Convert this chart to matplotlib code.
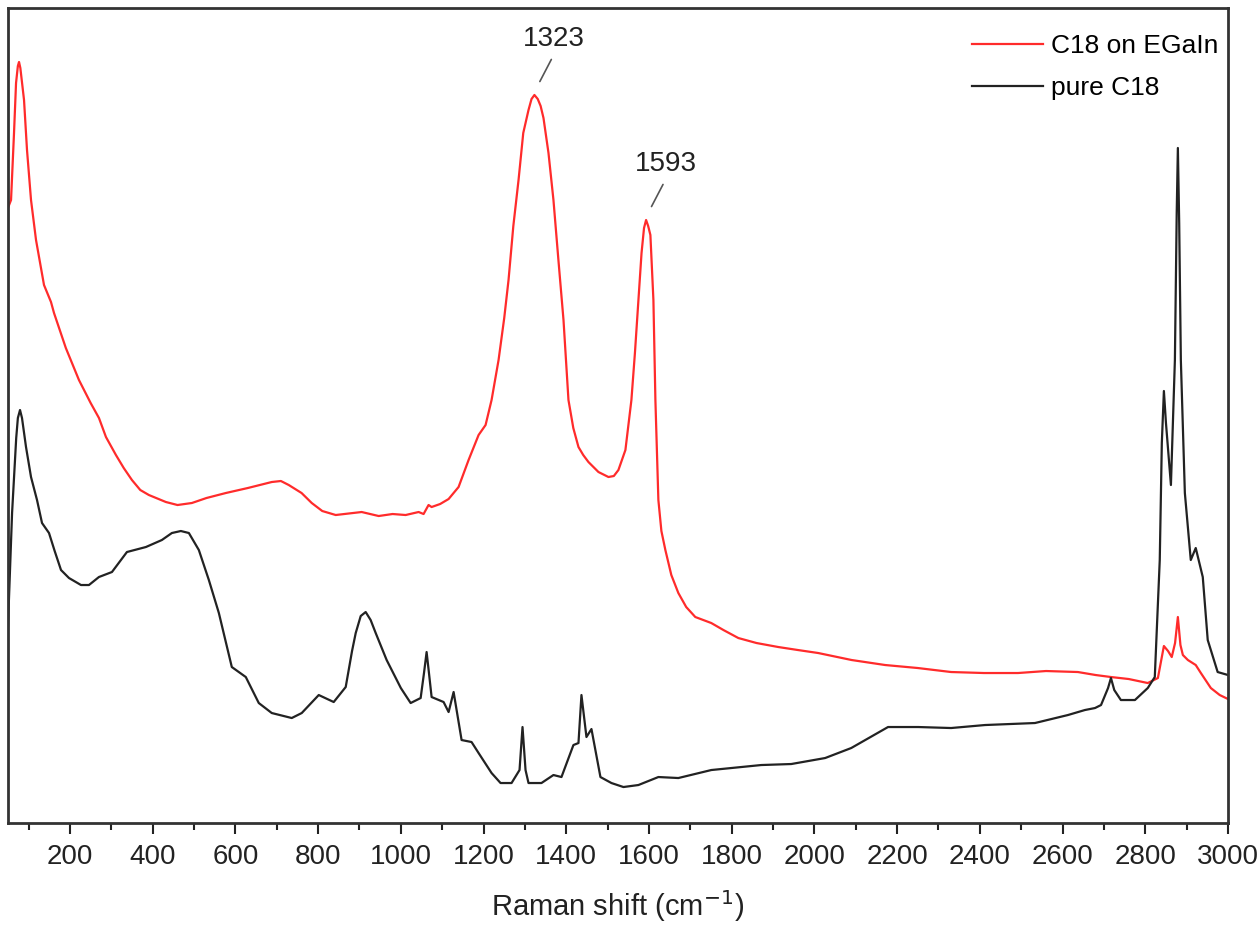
import matplotlib
matplotlib.use('Agg')
import matplotlib.pyplot as plt
from matplotlib.ticker import MultipleLocator
import numpy as np

# spectra (x: Raman shift in cm-1, y: intensity in a.u.)
red_shift = [50, 57.5, 64.7, 69.6, 74, 76.8, 80, 88.9, 96.1, 105.8, 117.9, 137.2, 154.1,
             161.4, 190, 221.7, 250, 270.1, 287, 311.1, 330, 349.8, 370, 390.8, 431.9,
             460, 494.7, 530, 576.8, 630, 687.9, 710, 729, 760, 784.6, 810, 842.5, 905.3,
             946.4, 980, 1011.6, 1043, 1055, 1067, 1074.4, 1095, 1115.5, 1139.6, 1163.8,
             1188, 1204.9, 1219.4, 1236.3, 1250, 1260.4, 1272, 1284.6, 1296, 1308.7,
             1316, 1323, 1331, 1338, 1344.9, 1357, 1369, 1381, 1393.3, 1405.3, 1417,
             1429.5, 1441, 1453.6, 1477.8, 1502, 1515, 1526.1, 1543, 1557.5, 1566,
             1574.4, 1582, 1588, 1593, 1598, 1603.4, 1610.7, 1615.5, 1622.7, 1630,
             1639.6, 1654, 1671, 1690, 1712, 1750.6, 1780, 1816, 1860, 1912.6, 1960,
             2009.2, 2090, 2171, 2250, 2330.5, 2410, 2492.3, 2560, 2637, 2680, 2717,
             2760, 2806, 2830.5, 2845, 2855, 2864, 2872, 2878.8, 2885, 2890.9, 2903,
             2922, 2934.4, 2958.5, 2980, 3000]
red_int = [615, 623, 690, 740, 757, 761, 755, 723, 673, 623, 583, 538, 521,
           510, 475, 443, 420, 405, 386, 368, 355, 343, 333, 328, 321,
           318, 320, 325, 330, 335, 341, 342, 338, 330, 320, 312, 308, 311,
           307, 309, 308, 311, 309, 318, 316, 319, 324, 336, 363,
           388, 398, 423, 463, 505, 543, 597, 643, 690, 713,
           724, 728, 724, 717, 705, 670, 623, 563, 503, 423, 395,
           376, 368, 361, 351, 346, 347, 353, 373, 423, 470,
           523, 570, 595, 603, 597, 588, 523, 423, 323, 292,
           273, 248, 230, 216, 206, 200, 193, 185, 180, 176, 173,
           170, 163, 158, 155, 151, 150, 150, 152, 151, 148, 146,
           144, 140, 145, 177, 172, 166, 180, 206, 178, 168, 163,
           158, 150, 135, 128, 124]

black_shift = [50, 60, 70, 74, 79.2, 84, 93.7, 105.8, 120.3, 132.4, 149.3, 163, 178.3,
               197.6, 226.6, 245.9, 270, 301.5, 337.7, 383.6, 422.2, 446.4, 468.1,
               487.5, 511.6, 535.8, 560, 591.3, 625.1, 656.5, 687.9, 736.2, 760.4,
               801.5, 837.7, 866.7, 882, 890.9, 903, 915, 927, 939.2, 965.7, 1000,
               1023.7, 1047.9, 1056, 1062.3, 1068, 1074.4, 1103.4, 1115.5, 1127.6,
               1146.9, 1171, 1188, 1219.4, 1241.1, 1267.7, 1287, 1294.2, 1301.5,
               1308.7, 1340, 1369, 1388.4, 1417.3, 1429.5, 1436.7, 1448.8, 1460.9,
               1482.6, 1509.2, 1538.2, 1574.4, 1622.7, 1671, 1750.7, 1871.5, 1944,
               2026, 2089, 2178, 2251, 2330.5, 2412.6, 2533.3, 2613, 2654, 2678.5,
               2693, 2710, 2717, 2725, 2741, 2775, 2806, 2823, 2835, 2840, 2845, 2850,
               2862, 2871.6, 2876, 2878.8, 2882, 2886, 2895.7, 2910, 2922, 2939, 2951,
               2975, 3000]
black_int = [196, 310, 385, 405, 413, 405, 376, 346, 323, 300, 290, 272, 253,
             245, 238, 238, 246, 251, 271, 276, 283, 290, 292,
             290, 273, 243, 210, 156, 146, 120, 110, 105, 110,
             128, 121, 136, 172, 190, 207, 211, 203, 190, 163, 135,
             120, 125, 150, 171, 150, 126, 121, 111, 131,
             83, 81, 70, 50, 40, 40, 53, 96, 53,
             40, 40, 48, 46, 78, 80, 128, 86, 94,
             46, 40, 36, 38, 46, 45, 53, 58, 59,
             65, 75, 96, 96, 95, 98, 100, 108, 113, 115,
             118, 135, 145, 133, 123, 123, 135, 146, 263, 380, 432, 400,
             338, 463, 610, 675, 600, 463, 330, 263, 275, 246, 183,
             151, 148]

peak_labels = [1323, 1593]
peak_heights = [728, 603]

font = ['Liberation Sans Narrow', 'Liberation Sans', 'DejaVu Sans']
plt.rcParams['font.family'] = font

fig = plt.figure(figsize=(12.6, 9.39), dpi=100)
ax = fig.add_axes([0.0063, 0.1235, 0.9683, 0.868])

ax.plot(red_shift, red_int, color='#ff2b2b', lw=1.6, label='C18 on EGaIn')
ax.plot(black_shift, black_int, color='#222222', lw=1.6, label='pure C18')

# peak labels with short leader lines
for pk, h in zip(peak_labels, peak_heights):
    ax.annotate('', xy=(pk + 10, h + 11), xytext=(pk + 44, h + 38),
                arrowprops=dict(arrowstyle='-', color='#555555', lw=1.2))
    ax.text(pk + 48, h + 56, str(pk), ha='center', va='center',
            fontsize=20, color='#222222')

ax.set_xlim(50, 3000)
ax.set_ylim(0, 815)
ax.xaxis.set_major_locator(MultipleLocator(200))
ax.xaxis.set_minor_locator(MultipleLocator(100))
ax.set_yticks([])
ax.tick_params(axis='x', which='major', direction='out', length=8, width=1.5,
               labelsize=20, pad=7, colors='#222222')
ax.tick_params(axis='x', which='minor', direction='out', length=5, width=1.5,
               colors='#222222')
for s in ax.spines.values():
    s.set_linewidth(2)
    s.set_color('#333333')

ax.set_xlabel('Raman shift (cm$^{-1}$)', fontsize=21, labelpad=13, color='#222222')

leg = ax.legend(loc='upper right', bbox_to_anchor=(1.001, 0.981), frameon=False,
                fontsize=19, handlelength=2.7, handletextpad=0.3, labelspacing=0.68,
                borderaxespad=0.0)

fig.savefig('out.png', dpi=100)
